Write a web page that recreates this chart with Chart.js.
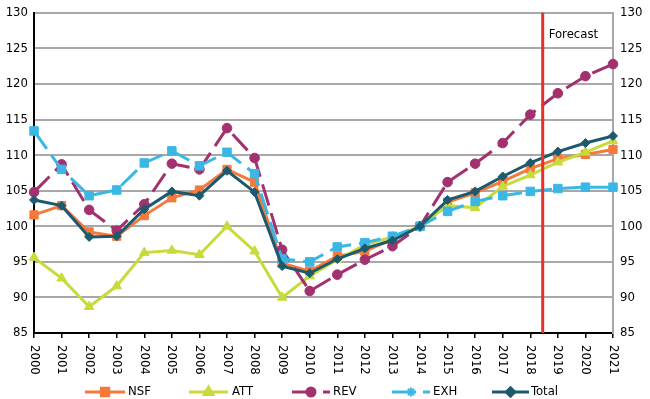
<!DOCTYPE html>
<html>
<head>
<meta charset="utf-8">
<script src="https://cdn.jsdelivr.net/npm/chart.js@4.4.1/dist/chart.umd.min.js"></script>
<style>
  html, body { margin: 0; padding: 0; background: #fff; }
  #wrap { width: 650px; height: 399px; position: relative; }
</style>
</head>
<body>
<div id="wrap"><canvas id="c" width="650" height="399"></canvas></div>
<script>
const years = ['2000','2001','2002','2003','2004','2005','2006','2007','2008','2009','2010','2011','2012','2013','2014','2015','2016','2017','2018','2019','2020','2021'];
const yTicks = [85, 90, 95, 100, 105, 110, 115, 120, 125, 130];
const nsf   = [101.6,102.9,99.2,98.6,101.5,104.0,105.1,108.0,106.2,94.8,93.7,95.8,96.5,98.2,100,103.4,104.7,106.3,108.1,109.5,110.1,110.8];
const att   = [95.6,92.7,88.7,91.6,96.3,96.6,96.0,100.0,96.5,90.0,93.0,95.3,97.4,98.5,100,102.9,102.6,105.6,107.2,109.0,110.4,112.0];
const rev   = [104.8,108.7,102.3,99.4,103.1,108.8,108.0,113.8,109.6,96.7,90.9,93.2,95.3,97.2,100,106.2,108.8,111.7,115.7,118.7,121.1,122.8];
const exh   = [113.4,108.0,104.3,105.1,108.9,110.6,108.5,110.4,107.4,95.4,95.0,97.1,97.7,98.6,100,102.1,103.5,104.3,104.9,105.3,105.5,105.5];
const total = [103.7,102.9,98.5,98.6,102.4,104.9,104.3,107.8,104.8,94.4,93.4,95.4,96.9,98.0,100,103.7,104.9,107.0,108.9,110.5,111.7,112.7];
const forecastAt = 18.45;   // position between 2018 and 2019 (category index)
const forecastLabel = 'Forecast';

const FONT = "'Liberation Sans Narrow', 'DejaVu Sans Condensed', 'Arial Narrow', sans-serif";
const FS = 13;
const C = { nsf:'#F47A3C', att:'#C8DA3C', rev:'#A3316F', exh:'#3BB7E6', total:'#1E5A6F', red:'#E8312A', grid:'#A8A8A8' };

function ds(label, data, color, style, radius, dash, order) {
  return {
    label, data, borderColor: color, backgroundColor: color,
    pointBackgroundColor: color, pointBorderColor: color,
    pointStyle: style, pointRadius: radius, pointBorderWidth: 1,
    borderWidth: 3, borderDash: dash, tension: 0, order, yAxisID: 'y', fill: false
  };
}

const legendItems = [
  { label:'NSF',   color:C.nsf,   style:'rect',     r:5.2, dash:[],     x0:85,  x1:125, tx:128 },
  { label:'ATT',   color:C.att,   style:'triangle', r:4.8, dash:[],     x0:189, x1:228, tx:232 },
  { label:'REV',   color:C.rev,   style:'circle',   r:4.0, dash:[24,7], x0:292, x1:330, tx:333 },
  { label:'EXH',   color:C.exh,   style:'star',     r:4.5, dash:[24,7], x0:392, x1:430, tx:433 },
  { label:'Total', color:C.total, style:'rectRot',  r:4.2, dash:[],     x0:492, x1:529, tx:531 }
];

const overlay = {
  id: 'overlay',
  afterDatasetsDraw(chart) {
    const ctx = chart.ctx, xs = chart.scales.x, area = chart.chartArea;
    const fx = xs.getPixelForValue(forecastAt);
    ctx.save();
    ctx.strokeStyle = C.red; ctx.lineWidth = 3;
    ctx.beginPath(); ctx.moveTo(fx, area.top); ctx.lineTo(fx, area.bottom); ctx.stroke();
    ctx.fillStyle = '#000'; ctx.font = FS + 'px ' + FONT;
    ctx.textAlign = 'left'; ctx.textBaseline = 'middle';
    ctx.fillText(forecastLabel, fx + 6, area.top + 22);
    ctx.restore();
  },
  afterDraw(chart) {
    const ctx = chart.ctx, xs = chart.scales.x, area = chart.chartArea;
    ctx.save();
    ctx.fillStyle = '#000'; ctx.font = FS + 'px ' + FONT;
    ctx.textAlign = 'left'; ctx.textBaseline = 'middle';
    years.forEach((y, i) => {
      const x = xs.getPixelForTick(i);
      ctx.save();
      ctx.translate(x, area.bottom + 12);
      ctx.rotate(Math.PI / 2);
      ctx.fillText(y, 0, 0);
      ctx.restore();
    });
    const ly = 392;
    legendItems.forEach(it => {
      ctx.save();
      ctx.strokeStyle = it.color; ctx.lineWidth = 3; ctx.setLineDash(it.dash);
      ctx.beginPath(); ctx.moveTo(it.x0, ly); ctx.lineTo(it.x1, ly); ctx.stroke();
      ctx.setLineDash([]);
      const mx = (it.x0 + it.x1) / 2;
      ctx.fillStyle = it.color;
      if (it.style === 'star') {
        ctx.lineWidth = 2;
        ctx.beginPath();
        for (let k = 0; k < 4; k++) {
          const a = k * Math.PI / 4;
          ctx.moveTo(mx - Math.cos(a) * it.r, ly - Math.sin(a) * it.r);
          ctx.lineTo(mx + Math.cos(a) * it.r, ly + Math.sin(a) * it.r);
        }
        ctx.stroke();
      } else {
        Chart.helpers.drawPoint(ctx, { pointStyle: it.style, radius: it.r, rotation: 0, borderWidth: 1 }, mx, ly);
        ctx.fill();
      }
      ctx.fillStyle = '#000'; ctx.font = FS + 'px ' + FONT;
      ctx.textAlign = 'left'; ctx.textBaseline = 'middle';
      ctx.fillText(it.label, it.tx, ly);
      ctx.restore();
    });
    ctx.restore();
  }
};

new Chart(document.getElementById('c'), {
  type: 'line',
  data: {
    labels: years,
    datasets: [
      ds('NSF', nsf, C.nsf, 'rect', 5.8, [], 4),
      ds('ATT', att, C.att, 'triangle', 5.5, [], 3),
      ds('REV', rev, C.rev, 'circle', 4.8, [22, 8], 2),
      ds('EXH', exh, C.exh, 'rect', 6, [22, 8], 1),
      ds('Total', total, C.total, 'rectRot', 4.5, [], 0)
    ]
  },
  options: {
    responsive: false, animation: false,
    layout: { padding: { top: 6, left: 0, right: 0, bottom: 0 } },
    plugins: { legend: { display: false }, tooltip: { enabled: false } },
    scales: {
      x: {
        type: 'category', offset: false,
        grid: { drawOnChartArea: false, color: '#000', tickLength: 5, lineWidth: 1.5 },
        border: { color: '#000', width: 2 },
        ticks: { display: false },
        afterFit(s) { s.height = 66; }
      },
      y: {
        position: 'left', min: 85, max: 130,
        afterBuildTicks(s) { s.ticks = yTicks.map(v => ({ value: v })); },
        grid: { color: C.grid, lineWidth: 2, drawTicks: false },
        border: { color: '#000', width: 2 },
        ticks: { color: '#000', padding: 6, font: { size: FS, family: FONT, lineHeight: 0.9 } },
        afterFit(s) { s.width = 34; }
      },
      y2: {
        position: 'right', min: 85, max: 130,
        afterBuildTicks(s) { s.ticks = yTicks.map(v => ({ value: v })); },
        grid: { drawOnChartArea: false, drawTicks: false },
        border: { color: C.grid, width: 2 },
        ticks: { color: '#000', padding: 7, font: { size: FS, family: FONT, lineHeight: 0.9 } },
        afterFit(s) { s.width = 37; }
      }
    }
  },
  plugins: [overlay]
});
</script>
</body>
</html>
